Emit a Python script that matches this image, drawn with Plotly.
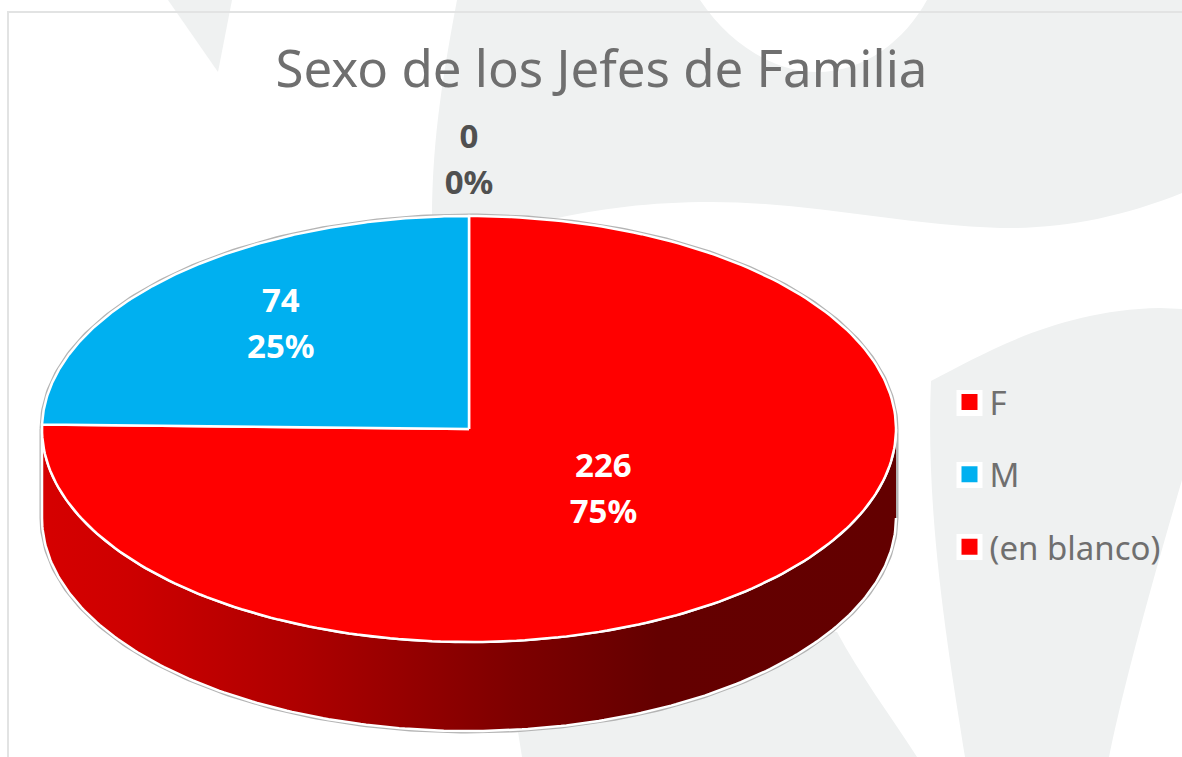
import numpy as np
import plotly.graph_objects as go

TITLE = "Sexo de los Jefes de Familia"
categories = ["F", "M", "(en blanco)"]
values = [226, 74, 0]
slice_colors = ["#ff0000", "#00b0f0", "#ff0000"]
label_colors = ["#ffffff", "#ffffff", "#505050"]
legend_rows = [403, 475, 547]

W, H = 1182, 757
CX, CY, RX, RY, DEPTH = 469, 429, 427, 213, 89
FONT = "Noto Sans"
TEXT = "#6f6f6f"
BLOB = "#eff1f1"

total = sum(values)
fractions = [v / total for v in values]
starts = np.cumsum([0] + fractions[:-1])


def px(theta, k=1.0):
    return CX + RX * k * np.sin(theta), CY - RY * k * np.cos(theta)


def arc(f0, f1, n=240):
    return 2 * np.pi * np.linspace(f0, f1, n)


blobs = [
    "M168,0 L232,0 L218,72 Z",
    "M457,0 L700,0 C730,45 775,72 817,72 C865,72 905,40 927,0 L1182,0 L1182,193 "
    "C1120,218 1060,229 1000,228 C900,225 800,200 700,202 C640,203 590,210 540,222 "
    "L432,222 C432,150 440,90 457,0 Z",
    "M931,381 C990,350 1060,310 1160,308 L1182,309 L1182,480 C1150,590 1125,680 1109,757 "
    "L965,757 C950,660 925,520 931,381 Z",
    "M513,700 L522,757 L917,757 C890,715 860,675 837,632 L600,600 Z",
]
shapes = [dict(type="path", path=p, fillcolor=BLOB, line_width=0, layer="below") for p in blobs]
shapes.append(dict(type="rect", x0=8, y0=12, x1=W + 20, y1=H + 20,
                   line=dict(color="#e2e3e3", width=2), layer="below"))
for row in legend_rows:
    shapes.append(dict(type="rect", x0=956.5, x1=982.5, y0=row - 13, y1=row + 13,
                       fillcolor="#ffffff", line_width=0, layer="below"))

fig = go.Figure()

# grey silhouette and wall
t_back = arc(-0.25, 0.25)
t_front = arc(0.25, 0.75)
xb, yb = px(t_back)
xf, yf = px(t_front)
sil_x = np.r_[xb, xf, xb[0]]
sil_y = np.r_[yb, yf + DEPTH, yb[0]]
fig.add_trace(go.Scatter(x=sil_x, y=sil_y, mode="lines", line=dict(color="#b4b4b4", width=5),
                         hoverinfo="skip", showlegend=False))
wall_x = np.r_[xf, xf[::-1]]
wall_y = np.r_[yf + DEPTH, yf[::-1]]
fig.add_trace(go.Scatter(
    x=wall_x, y=wall_y, mode="lines", fill="toself", line=dict(color="#ffffff", width=2.5),
    fillgradient=dict(type="horizontal", start=40, stop=898,
                      colorscale=[[0, "#d60000"], [0.1, "#ce0000"], [0.3, "#ae0000"],
                                  [0.55, "#7e0000"], [0.72, "#640000"], [1, "#630000"]]),
    hoverinfo="skip", showlegend=False))

# top slices
for name, v, f0, frac, col in zip(categories, values, starts, fractions, slice_colors):
    if v == 0:
        continue
    t = arc(f0, f0 + frac)
    x, y = px(t)
    fig.add_trace(go.Scatter(x=np.r_[CX, x, CX], y=np.r_[CY, y, CY], mode="lines", fill="toself",
                             fillcolor=col, line=dict(color="#ffffff", width=2.5),
                             name=name, hoverinfo="name", showlegend=False))

# data labels
radial = [0.45, 0.63, 1.22]
lx, ly = [], []
for f0, frac, k in zip(starts, fractions, radial):
    a, b = px(2 * np.pi * (f0 + frac / 2), k)
    lx.append(a)
    ly.append(b - 6)
lx, ly = np.array(lx), np.array(ly)
fnt = dict(family=FONT, size=33, color=label_colors, weight="bold")
fig.add_trace(go.Scatter(x=lx, y=ly - 23, mode="text", text=[str(v) for v in values],
                         textfont=fnt, textposition="middle center", hoverinfo="skip", showlegend=False))
fig.add_trace(go.Scatter(x=lx, y=ly + 23, mode="text", text=[f"{round(f * 100)}%" for f in fractions],
                         textfont=fnt, textposition="middle center", hoverinfo="skip", showlegend=False))

# legend
for i, (name, col) in enumerate(zip(categories, slice_colors)):
    fig.add_trace(go.Scatter(x=[None], y=[None], mode="markers", name=name, legendgroup=str(i),
                             marker=dict(symbol="square", size=16, color=col, line_width=0)))

fig.update_layout(
    width=W, height=H, autosize=False,
    margin=dict(l=0, r=0, t=0, b=0),
    paper_bgcolor="#ffffff", plot_bgcolor="rgba(0,0,0,0)",
    title=dict(text=TITLE, x=601.5 / W, xanchor="center", y=1 - 69 / H, yanchor="middle",
               font=dict(family=FONT, size=51, color=TEXT)),
    xaxis=dict(range=[0, W], visible=False, fixedrange=True),
    yaxis=dict(range=[H, 0], visible=False, fixedrange=True),
    legend=dict(x=949.5 / W, y=1 - 374 / H, xanchor="left", yanchor="top",
                bgcolor="rgba(0,0,0,0)", tracegroupgap=26.5,
                font=dict(family=FONT, size=33, color=TEXT)),
    shapes=shapes,
)
fig.write_html("out.html", config={"displayModeBar": False},
               post_script="document.body.style.margin='0';document.body.style.overflow='hidden';")
